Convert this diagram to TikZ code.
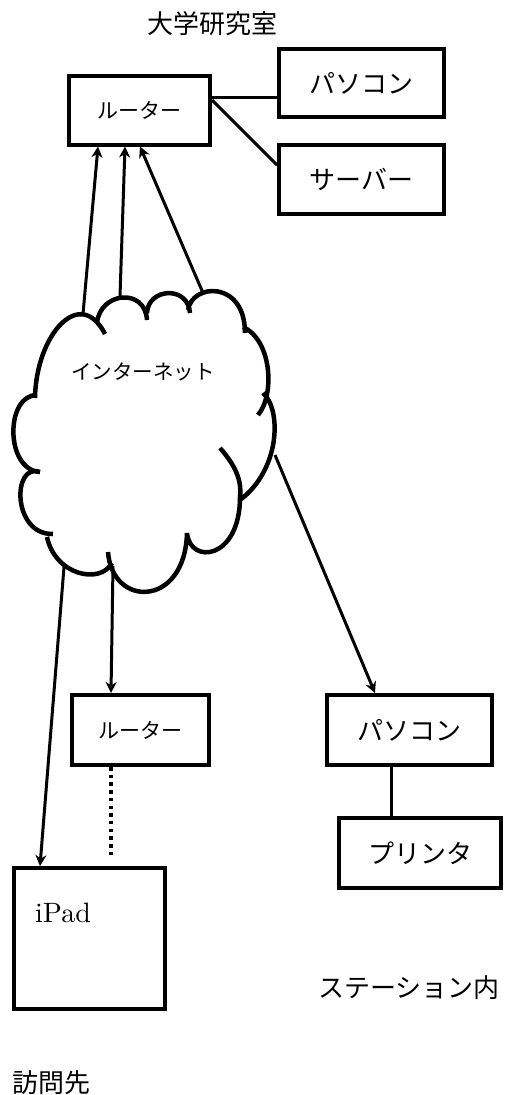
\documentclass[tikz,border=0pt]{standalone}
\usepackage{fontspec}
\newfontfamily\jp{Noto Sans CJK JP}
\newfontfamily\lmten{lmroman10-regular.otf}
\usetikzlibrary{arrows.meta}
\begin{document}
\begin{tikzpicture}[x=1pt,y=-1pt,
  box/.style={draw, line width=4pt, inner sep=0pt, font=\jp\fontsize{26}{28}\selectfont},
  smallbox/.style={box, font=\jp\fontsize{21}{23}\selectfont},
  lbl/.style={inner sep=0pt, font=\jp\fontsize{26}{28}\selectfont},
  arr/.style={line width=3pt, -{Stealth[length=11pt,width=11pt,inset=3.5pt]}},
  link/.style={line width=3pt},
  cloudline/.style={line width=4.5pt}
]
\useasboundingbox (0,0) rectangle (504,1095);

% boxes
\node[smallbox, minimum width=141pt, minimum height=69pt] (r1) at (139.5,110) {ルーター};
\node[box, minimum width=165pt, minimum height=68pt] (pc1) at (361.5,83) {パソコン};
\node[box, minimum width=165pt, minimum height=69pt] (sv) at (361.5,179.5) {サーバー};
\node[smallbox, minimum width=137pt, minimum height=70pt] (r2) at (140.5,730) {ルーター};
\node[box, minimum width=165pt, minimum height=70pt] (pc2) at (409.5,730) {パソコン};
\node[box, minimum width=162pt, minimum height=70pt] (pr) at (420,853) {プリンタ};
\node[draw, line width=4pt, minimum width=151pt, minimum height=141pt, inner sep=0pt] (ipad) at (89.5,938.5) {};
\node[inner sep=0pt, anchor=base west, font=\lmten\fontsize{28}{30}\selectfont] (ipadtxt) at (35,922) {iPad};

% labels
\node[lbl] (lab1) at (212,24) {大学研究室};
\node[lbl] (lab2) at (409,987.5) {ステーション内};
\node[lbl] (lab3) at (51.5,1082.5) {訪問先};

% cloud
\draw[cloudline]
 (35,398) .. controls (36,335) and (80,285) .. (105,334)
 (97,323) .. controls (100,292) and (145,287) .. (147,320)
 (147,313) .. controls (148,288) and (188,285) .. (190,313)
 (188,310) .. controls (192,283) and (245,280) .. (245,333)
 (243,327) .. controls (272,340) and (275,395) .. (258,415)
 (263,393) .. controls (282,410) and (280,470) .. (240,500)
 (220,448) .. controls (235,465) and (242,480) .. (240,497) .. controls (240,560) and (190,565) .. (187,533)
 (187,533) .. controls (185,608) and (112,608) .. (108,552)
 (112,563) .. controls (100,585) and (55,575) .. (47,537)
 (53,534) .. controls (12,535) and (12,462) .. (40,472)
 (40,472) .. controls (5,470) and (5,395) .. (37,395);
\node[inner sep=0pt, font=\jp\fontsize{20.5}{22}\selectfont] (net) at (143,372) {インターネット};

% cloud anchor points
\coordinate (ca1) at (83,314);
\coordinate (ca2) at (120,296);
\coordinate (ca3) at (203,293);
\coordinate (ca4) at (64,567);
\coordinate (ca5) at (113,566);
\coordinate (ca6) at (275,455);
\coordinate (dotend) at (111,858);

% connectors
\draw[link] (r1.east |- 0,97) -- (pc1.west |- 0,97);
\draw[link] (r1.east |- 0,100) -- (sv.west |- 0,165);
\draw[arr] (ca1) -- (r1.south -| 98,0);
\draw[arr] (ca2) -- (r1.south -| 125,0);
\draw[arr] (ca3) -- (r1.south -| 140,0);
\draw[arr] (ca4) -- (ipad.north -| 40,0);
\draw[arr] (ca5) -- (r2.north -| 111,0);
\draw[arr] (ca6) -- (pc2.north -| 375,0);
\draw[line width=3.5pt, dash pattern=on 3.5pt off 4.2pt] (r2.south -| 111,0) -- (dotend);
\draw[link] (pc2.south -| 391,0) -- (pr.north -| 391,0);
\end{tikzpicture}
\end{document}
